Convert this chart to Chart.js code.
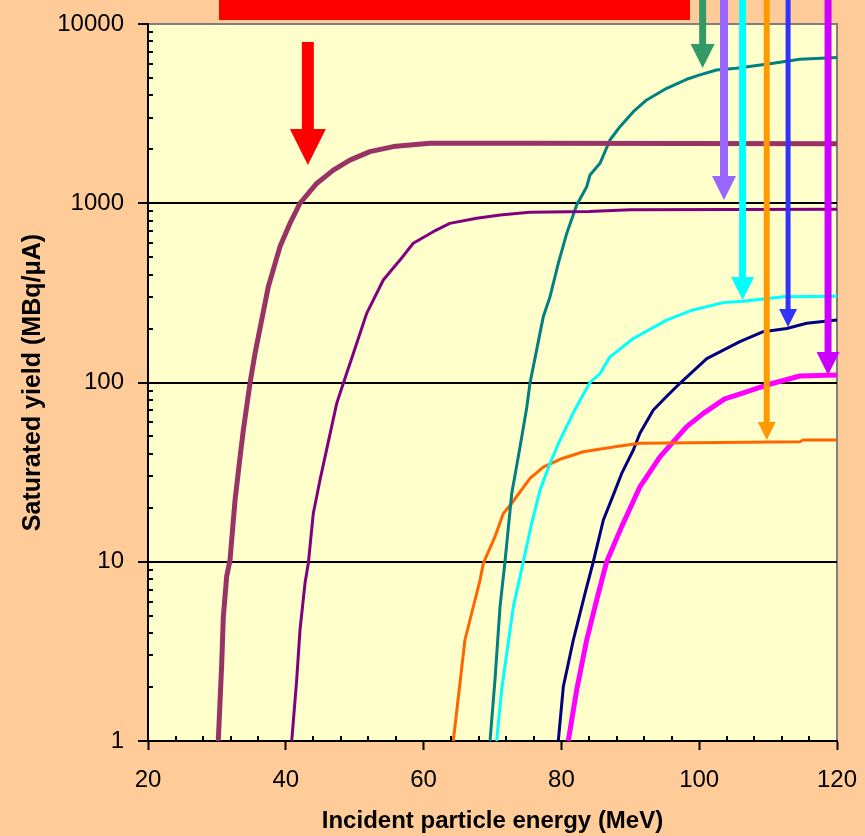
<!DOCTYPE html>
<html>
<head>
<meta charset="utf-8">
<script src="https://cdn.jsdelivr.net/npm/chart.js@4.4.0/dist/chart.umd.min.js"></script>
<style>
  html, body { margin: 0; padding: 0; background: #FFCC99; }
  #wrap { position: relative; width: 865px; height: 836px; overflow: hidden; }
  #banner { position: absolute; left: 219px; top: 0; width: 471px; height: 20px; background: #FF0000; }
</style>
</head>
<body>
<div id="wrap">
  <canvas id="chart" width="865" height="836"></canvas>
  <div id="banner"></div>
</div>
<script>
// energies (MeV) and saturated yields (MBq/uA)
const mauveE = [30.2, 30.7, 30.93, 31.42, 31.9, 32.63, 33.35, 33.83, 34.8, 35.53, 36.5, 37.46, 39.16, 40.6, 42.06, 44.48, 46.9, 49.3, 52.2, 55.6, 60.9, 75.4, 120];
const mauveY = [1, 2.7, 4.9, 8.3, 10.2, 22, 38, 54, 99, 145, 223, 342, 573, 772, 1000, 1290, 1530, 1740, 1940, 2070, 2160, 2160, 2150];

const purpleE = [40.86, 41.58, 42.06, 42.79, 43.27, 43.99, 44.96, 45.94, 47.39, 48.35, 49.8, 51.74, 54.15, 56.57, 58.5, 61.4, 63.8, 67.7, 71.1, 75.4, 84, 90, 120];
const purpleY = [1, 2.19, 4.16, 7.6, 9.8, 18.6, 28.6, 42.5, 76.5, 99, 145, 243, 373, 482, 598, 694, 772, 824, 860, 890, 900, 920, 925];

const tealE = [69.64, 70.36, 71.09, 71.81, 72.79, 74.0, 74.96, 75.44, 76.41, 77.37, 78.35, 79.55, 80.77, 82.22, 83.67, 84.15, 85.6, 87.05, 88.5, 90.44, 92.38, 95.28, 98.19, 100.1, 102.5, 105.4, 110.75, 114.6, 120];
const tealY = [1, 2.19, 5.6, 10, 24, 43.8, 72, 99, 152, 233, 301, 462, 679, 977, 1236, 1438, 1670, 2254, 2675, 3242, 3768, 4378, 4916, 5198, 5540, 5660, 6036, 6350, 6513];

const cyanE = [70.6, 71.33, 73.02, 74.47, 75.69, 76.9, 78.35, 79.8, 82.0, 84.15, 85.6, 87.05, 90.44, 95.28, 99.1, 103.5, 106.4, 112.2, 120];
const cyanY = [1, 1.93, 5.6, 10, 16.4, 25.1, 35.4, 47.8, 71, 100, 112, 139, 176, 223, 254, 279, 284, 301, 303];

const orangeE = [64.31, 66.0, 68.19, 68.67, 70.36, 71.57, 72.79, 75.44, 77.37, 79.8, 83.18, 88.0, 91.4, 114.6, 115.1, 120];
const orangeY = [1, 3.66, 7.9, 9.8, 13.8, 18.6, 21.2, 29.2, 33.7, 37.3, 41.1, 43.9, 45.8, 46.7, 47.8, 47.8];

const navyE = [79.55, 80.28, 81.73, 82.22, 83.43, 84.63, 86.09, 87.54, 88.75, 90.44, 91.4, 93.34, 95.04, 97.2, 101.1, 105.9, 109.3, 112.7, 115.6, 120];
const navyY = [1, 2.01, 3.66, 4.34, 6.67, 10, 17.1, 23.6, 31.1, 42, 52.1, 70.3, 82, 99, 136, 169, 192, 200, 214, 223];

const magentaE = [81.0, 82.22, 83.67, 85.12, 86.57, 88.75, 91.4, 94.3, 98.19, 100.6, 103.7, 105.4, 109.8, 114.6, 120];
const magentaY = [1, 1.93, 3.66, 6.12, 10, 15.7, 26.2, 38.5, 56.7, 67.3, 81, 85, 96.8, 108.7, 110];

const yTicks = [1, 10, 100, 1000, 10000];

// arrows: energy, value at the tip, value where shaft starts (null = top of page)
const arrowE = [43.2, 100.5, 103.6, 106.3, 109.8, 112.9, 118.7];
const arrowTip = [1635, 5685, 1043, 289, 47.8, 204, 110];
const arrowStart = [7940, null, null, null, null, null, null];
const arrowColors = ["#FF0000", "#339966", "#9966FF", "#00FFFF", "#FF9900", "#3333FF", "#CC00FF"];
const arrowShaft = [12, 7, 8, 7, 6, 5, 7];
const arrowHead = [36, 24, 24, 23, 18, 18, 23];

function pts(xs, ys) {
  return xs.map(function (x, i) { return { x: x, y: ys[i] }; });
}

function curve(xs, ys, color, width) {
  return {
    data: pts(xs, ys),
    borderColor: color,
    borderWidth: width,
    pointRadius: 0,
    tension: 0,
    fill: false,
    borderJoinStyle: "round",
  };
}

// no extra room for overhanging tick labels
function noOverhang(s) {
  s.paddingLeft = 0;
  s.paddingRight = 0;
  s.paddingTop = 0;
  s.paddingBottom = 0;
}

const decor = {
  id: "decor",
  beforeDraw(chart) {
    const ctx = chart.ctx;
    const a = chart.chartArea;
    ctx.save();
    ctx.fillStyle = "#FFFFCC";
    ctx.fillRect(a.left, a.top, a.right - a.left, a.bottom - a.top);
    ctx.strokeStyle = "#808080";
    ctx.lineWidth = 2;
    ctx.beginPath();
    ctx.moveTo(a.left, a.top);
    ctx.lineTo(a.right, a.top);
    ctx.lineTo(a.right, a.bottom);
    ctx.stroke();
    ctx.restore();
  },
  afterDraw(chart) {
    const ctx = chart.ctx;
    const a = chart.chartArea;
    const xs = chart.scales.x;
    const ys = chart.scales.y;
    ctx.save();
    // minor ticks, pointing into the plot
    ctx.strokeStyle = "#000";
    ctx.lineWidth = 2;
    ctx.beginPath();
    for (let d = 1; d < 10000; d *= 10) {
      for (let k = 2; k <= 9; k++) {
        const py = Math.round(ys.getPixelForValue(k * d));
        ctx.moveTo(a.left, py);
        ctx.lineTo(a.left + 5, py);
      }
    }
    for (let e = 24; e < 120; e += 4) {
      if (e % 20 === 0) continue;
      const px = Math.round(xs.getPixelForValue(e));
      ctx.moveTo(px, a.bottom);
      ctx.lineTo(px, a.bottom - 5);
    }
    ctx.stroke();

    // arrows
    for (let i = 0; i < arrowE.length; i++) {
      const px = xs.getPixelForValue(arrowE[i]);
      const tip = ys.getPixelForValue(arrowTip[i]);
      const top = arrowStart[i] === null ? 0 : ys.getPixelForValue(arrowStart[i]);
      const hw = arrowHead[i];
      const headTop = tip - hw;
      ctx.fillStyle = arrowColors[i];
      ctx.fillRect(px - arrowShaft[i] / 2, top, arrowShaft[i], headTop - top + 1);
      ctx.beginPath();
      ctx.moveTo(px - hw / 2, headTop);
      ctx.lineTo(px + hw / 2, headTop);
      ctx.lineTo(px, tip);
      ctx.closePath();
      ctx.fill();
    }
    ctx.restore();
  },
};

Chart.defaults.font.family = "'Liberation Sans', Arial, sans-serif";
Chart.defaults.color = "#000";

new Chart(document.getElementById("chart"), {
  type: "line",
  data: {
    datasets: [
      curve(mauveE, mauveY, "#993366", 5),
      curve(purpleE, purpleY, "#800080", 3),
      curve(tealE, tealY, "#008080", 3),
      curve(cyanE, cyanY, "#00FFFF", 3),
      curve(orangeE, orangeY, "#FF6600", 3),
      curve(navyE, navyY, "#000080", 3),
      curve(magentaE, magentaY, "#FF00FF", 5),
    ],
  },
  options: {
    responsive: false,
    animation: false,
    devicePixelRatio: 1,
    layout: { padding: { top: 24, right: 28, left: 0, bottom: 0 } },
    plugins: { legend: { display: false }, tooltip: { enabled: false } },
    scales: {
      x: {
        type: "linear",
        min: 20,
        max: 120,
        afterFit: function (s) { s.height = 95; noOverhang(s); },
        ticks: { stepSize: 20, maxRotation: 0, padding: 16, font: { size: 24 } },
        grid: { drawOnChartArea: false, tickLength: 9, tickColor: "#000", tickWidth: 2 },
        border: { color: "#000", width: 2 },
        title: {
          display: true,
          text: "Incident particle energy (MeV)",
          font: { size: 24, weight: "bold" },
          padding: { top: 0, bottom: 0 },
        },
      },
      y: {
        type: "logarithmic",
        min: 1,
        max: 10000,
        afterFit: function (s) { s.width = 148; noOverhang(s); },
        afterBuildTicks: function (s) {
          s.ticks = yTicks.map(function (v) { return { value: v }; });
        },
        ticks: {
          padding: 14,
          font: { size: 24 },
          callback: function (v) { return String(v); },
        },
        grid: {
          color: function (c) {
            const v = c.tick ? c.tick.value : 0;
            return v === 1 || v === 10000 ? "rgba(0,0,0,0)" : "#000";
          },
          lineWidth: 2,
          tickLength: 10,
          tickColor: "#000",
          tickWidth: 2,
        },
        border: { color: "#000", width: 2 },
        title: {
          display: true,
          text: "Saturated yield (MBq/μA)",
          font: { size: 25, weight: "bold" },
          padding: { top: 18, bottom: 0 },
        },
      },
    },
  },
  plugins: [decor],
});
</script>
</body>
</html>
